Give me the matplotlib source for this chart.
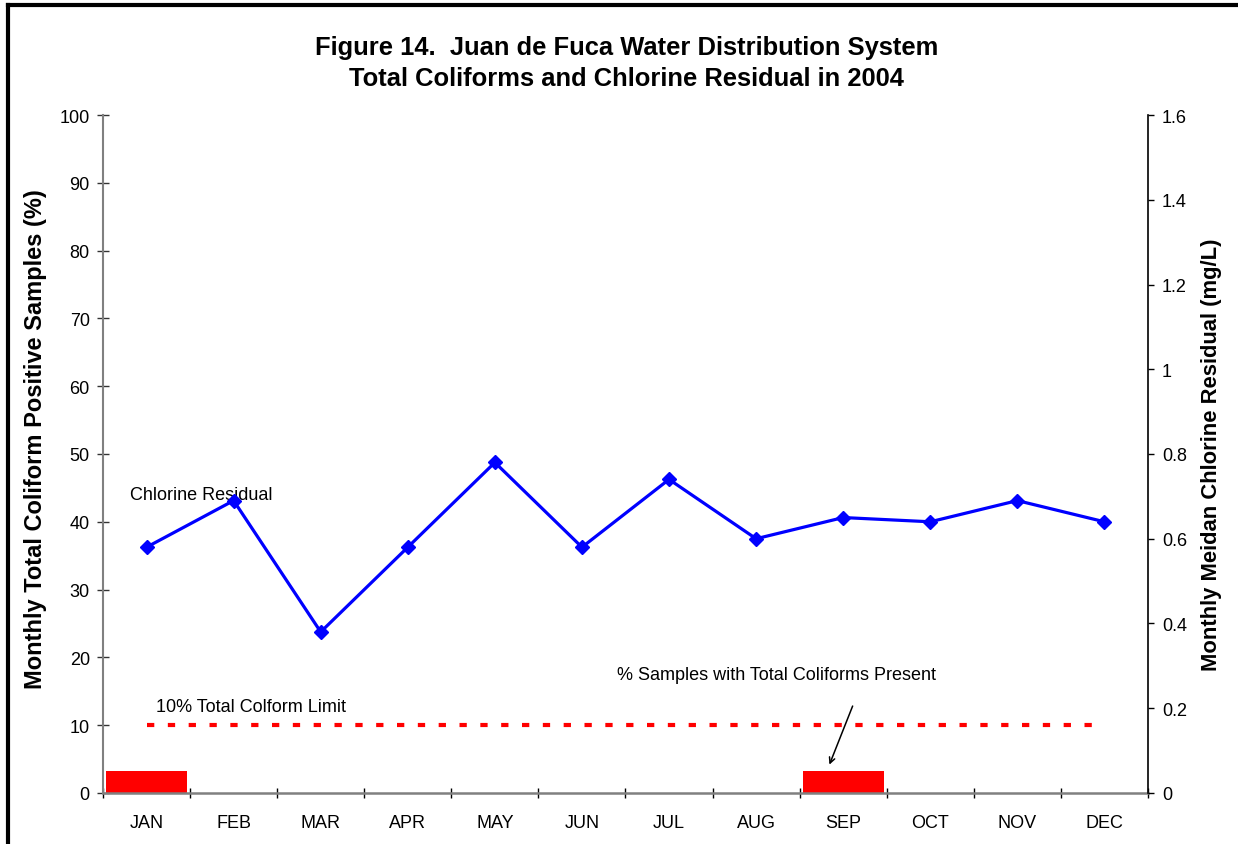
#! /usr/bin/env python3
import numpy as np
import matplotlib
matplotlib.use('Agg')
import matplotlib.pyplot as plt

plt.rcParams['font.family'] = ['Liberation Sans', 'DejaVu Sans']

# data
months = ['JAN', 'FEB', 'MAR', 'APR', 'MAY', 'JUN', 'JUL', 'AUG', 'SEP', 'OCT', 'NOV', 'DEC']
coliform_pct = [3.2, 0, 0, 0, 0, 0, 0, 0, 3.2, 0, 0, 0]
chlorine = [0.58, 0.69, 0.38, 0.58, 0.78, 0.58, 0.74, 0.60, 0.65, 0.64, 0.69, 0.64]
limit_pct = [10] * 12

fig = plt.figure(figsize=(12.38, 8.45), dpi=100)
ax = fig.add_axes([0.0832, 0.0604, 0.8441, 0.8023])
ax2 = ax.twinx()

x = np.arange(len(months))

# coliform bars + limit line (left axis)
ax.bar(x, coliform_pct, width=0.93, color='#ff0000', zorder=2)
ax.plot(x, limit_pct, color='#ff0000', lw=3, dashes=(1.75, 3.25), zorder=3)

# chlorine residual (right axis)
ax2.plot(x, chlorine, color='#0000ff', lw=2.3, marker='D', ms=7.5, zorder=4)

ax.set_xlim(-0.5, 11.5)
ax.set_ylim(0, 100)
ax2.set_ylim(0, 1.6)

ax.set_yticks(np.arange(0, 101, 10))
ax2.set_yticks([0, 0.2, 0.4, 0.6, 0.8, 1.0, 1.2, 1.4, 1.6])
ax2.set_yticklabels(['0', '0.2', '0.4', '0.6', '0.8', '1', '1.2', '1.4', '1.6'])

# month labels centred, ticks on the boundaries
ax.set_xticks(np.arange(-0.5, 12, 1))
ax.set_xticklabels([])
ax.set_xticks(x, minor=True)
ax.set_xticklabels(months, minor=True, fontsize=13)
ax.tick_params(axis='x', which='minor', length=0, pad=15)
ax.tick_params(axis='x', which='major', direction='inout', length=7, width=1, color='black')
ax.tick_params(axis='y', direction='inout', length=9, width=1, color='#333333',
               labelsize=13, pad=5)
ax2.tick_params(axis='y', direction='out', length=4, width=1, labelsize=13, pad=6)

ax.spines['top'].set_visible(False)
ax2.spines['top'].set_visible(False)
ax.spines['right'].set_visible(False)
ax2.spines['left'].set_visible(False)
ax2.spines['bottom'].set_visible(False)
ax.spines['left'].set_color('#808080')
ax.spines['bottom'].set_color('#808080')
ax.spines['left'].set_linewidth(1.5)
ax.spines['bottom'].set_linewidth(1.8)
ax2.spines['right'].set_color('black')
ax2.spines['right'].set_linewidth(1.2)

ax.set_ylabel('Monthly Total Coliform Positive Samples (%)', fontsize=17,
              fontweight='bold', va='center')
ax.yaxis.set_label_coords(-0.065, 0.524)
ax2.set_ylabel('Monthly Meidan Chlorine Residual (mg/L)', fontsize=15.8,
               fontweight='bold', labelpad=10)

fig.text(0.506, 0.925, 'Figure 14.  Juan de Fuca Water Distribution System\n'
         'Total Coliforms and Chlorine Residual in 2004',
         ha='center', va='center', fontsize=18.4, fontweight='bold', linespacing=1.35)

# labels inside the plot
ax.text(-0.19, 44, 'Chlorine Residual', fontsize=13, va='center', ha='left', zorder=5)
ax.text(0.11, 12.8, '10% Total Colform Limit', fontsize=13, va='center', ha='left')
ax.text(5.4, 17.5, '% Samples with Total Coliforms Present', fontsize=13,
        va='center', ha='left')
ax.annotate('', xy=(7.83, 3.8), xytext=(8.12, 13.2),
            arrowprops=dict(arrowstyle='->', color='black', lw=1.1))

# outer frame (only top and left edges are visible)
fig.add_artist(plt.Line2D([8 / 1238, 8 / 1238], [-0.1, 1 - 6 / 845],
                          transform=fig.transFigure, color='black', lw=3))
fig.add_artist(plt.Line2D([8 / 1238, 1.1], [1 - 6 / 845, 1 - 6 / 845],
                          transform=fig.transFigure, color='black', lw=3))

fig.savefig('out.png', dpi=100)
